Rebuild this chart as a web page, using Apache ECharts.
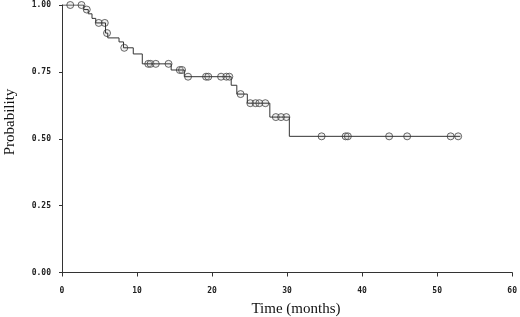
<!DOCTYPE html>
<html>
<head>
<meta charset="utf-8">
<script src="https://cdn.jsdelivr.net/npm/echarts@6/dist/echarts.min.js"></script>
<style>
  html, body { margin: 0; padding: 0; background: #fff; }
  #main { width: 520px; height: 317px; }
</style>
</head>
<body>
<div id="main"></div>
<script>
// Kaplan-Meier steps: time (months) where the curve drops, and the level after the drop
var eventTimes = [0, 2.9, 3.5, 4.0, 4.5, 5.8, 6.1, 7.6, 8.2, 9.5, 10.7, 14.55, 16.3, 22.55, 23.3, 24.7, 27.7, 30.3];
var survProbs = [1.0, 0.983, 0.967, 0.95, 0.933, 0.895, 0.877, 0.862, 0.84, 0.817, 0.78, 0.757, 0.732, 0.7, 0.667, 0.633, 0.581, 0.509];
var lastTime = 53.1;
// censored observations (circles)
var censorTimes = [1.1, 2.6, 3.3, 4.9, 5.7, 6.0, 8.3, 11.5, 11.8, 12.5, 14.2, 15.7, 16.0, 16.8, 19.2, 19.5, 21.2, 21.9, 22.3,
  23.8, 25.1, 25.8, 26.3, 27.1, 28.5, 29.2, 29.9, 34.6, 37.8, 38.1, 43.6, 46.0, 51.8, 52.8];
var xTicks = [0, 10, 20, 30, 40, 50, 60];
var yTicks = [0, 0.25, 0.5, 0.75, 1];

function levelAt(t) {
  var p = survProbs[0];
  for (var i = 0; i < eventTimes.length; i++) {
    if (eventTimes[i] <= t) p = survProbs[i];
  }
  return p;
}

var curve = eventTimes.map(function (t, i) { return [t, survProbs[i]]; });
curve.push([lastTime, survProbs[survProbs.length - 1]]);
var censored = censorTimes.map(function (t) { return [t, levelAt(t)]; });

var tickFont = {
  fontFamily: "DejaVu Sans Mono",
  fontSize: 8,
  fontWeight: "bold",
  color: "#222",
};

var chart = echarts.init(document.getElementById("main"));
chart.setOption({
  animation: false,
  grid: {
    left: 62,
    right: 5.5,
    top: 5,
    bottom: 44.5,
  },
  xAxis: {
    type: "value",
    min: xTicks[0],
    max: xTicks[xTicks.length - 1],
    interval: 10,
    offset: 2,
    axisLine: { show: true, lineStyle: { color: "#333", width: 1 } },
    axisTick: { show: true, length: 4, lineStyle: { color: "#333" } },
    axisLabel: Object.assign({ margin: 12 }, tickFont),
    splitLine: { show: false },
  },
  yAxis: {
    type: "value",
    min: yTicks[0],
    max: yTicks[yTicks.length - 1],
    interval: 0.25,
    offset: 5,
    axisLine: { show: true, lineStyle: { color: "#333", width: 1 } },
    axisTick: { show: true, length: 3, lineStyle: { color: "#333" } },
    axisLabel: Object.assign({
      margin: 6,
      formatter: function (v) { return v.toFixed(2); },
    }, tickFont),
    splitLine: { show: false },
  },
  graphic: [
    {
      type: "text",
      x: 10,
      y: 122,
      rotation: Math.PI / 2,
      style: {
        text: "Probability",
        font: "15px 'Liberation Serif'",
        fill: "#111",
        align: "center",
        verticalAlign: "middle",
      },
    },
    {
      type: "text",
      x: 296,
      y: 309,
      style: {
        text: "Time (months)",
        font: "15px 'Liberation Serif'",
        fill: "#111",
        align: "center",
        verticalAlign: "middle",
      },
    },
  ],
  series: [
    {
      type: "line",
      step: "end",
      data: curve,
      showSymbol: false,
      lineStyle: { color: "#333", width: 1 },
    },
    {
      type: "scatter",
      data: censored,
      symbol: "circle",
      symbolSize: 7,
      itemStyle: {
        color: "rgba(200,200,200,0.35)",
        borderColor: "#444",
        borderWidth: 1,
      },
    },
  ],
});
</script>
</body>
</html>
